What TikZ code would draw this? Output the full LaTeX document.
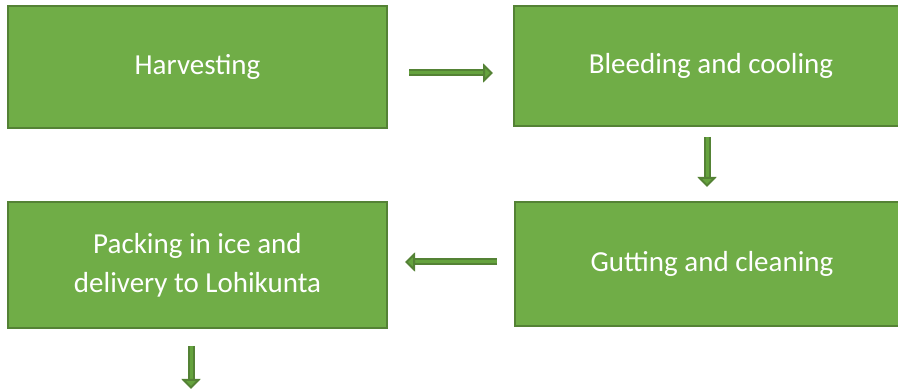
\documentclass[tikz,border=0pt]{standalone}
\usepackage{fontspec}
\setmainfont{Carlito}
\usetikzlibrary{arrows.meta}
\definecolor{boxgreen}{HTML}{70AD47}
\definecolor{edgegreen}{HTML}{548235}
\definecolor{arrowgreen}{HTML}{65A33E}
\tikzset{
 stepbox/.style={draw=edgegreen, fill=boxgreen, line width=2pt, text=white, align=center,
  font=\fontsize{29}{39}\selectfont, inner sep=0pt},
 flow/.style={draw=edgegreen, line width=2pt, double=arrowgreen, double distance=3pt,
  -{Triangle[length=10pt,width=19pt,fill=arrowgreen]}}
}
\begin{document}
\begin{tikzpicture}[x=1pt,y=-1pt]
 \useasboundingbox (0,0) rectangle (898,390);
 \node[stepbox, minimum width=379pt, minimum height=122pt] (harv) at (197.5,67) {Harvesting}; %1
 \node[stepbox, minimum width=394pt, minimum height=120pt] (bleed) at (711,66) {Bleeding and cooling}; %2
 \node[stepbox, minimum width=394pt, minimum height=124pt] (gut) at (712,264) {Gutting and cleaning}; %3
 \node[stepbox, minimum width=379pt, minimum height=126pt] (pack) at (197.5,265) {Packing in ice and\\delivery to Lohikunta}; %4
 \coordinate (out) at (191,389); %next step below
 \draw[flow, shorten <=21pt, shorten >=20pt] ([yshift=-6pt]harv.east) -- ([yshift=-7pt]bleed.west);
 \draw[flow, shorten <=10pt, shorten >=14pt] (bleed.south -| 707,0) -- (gut.north -| 707,0);
 \draw[flow, shorten <=17pt, shorten >=17pt] ([yshift=2pt]gut.west) -- ([yshift=3pt]pack.east);
 \draw[flow, shorten <=17pt] (pack.south -| out) -- (out);
\end{tikzpicture}
\end{document}
